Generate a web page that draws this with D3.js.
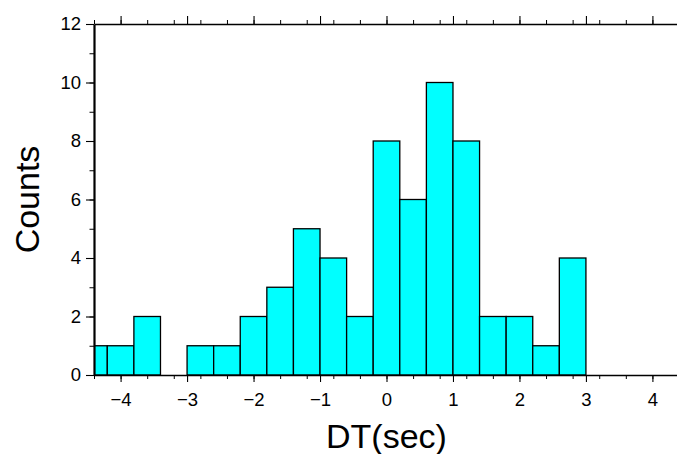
<html>
<meta charset="utf-8">
<script src="https://cdn.jsdelivr.net/npm/d3@7/dist/d3.min.js"></script>
<style>
  body { margin: 0; background: white; }
  text { font-family: "Liberation Sans", Arial, Helvetica, sans-serif; fill: black; }
</style>
<body>
<div id="chart"></div>
<script>

// histogram bins, width 0.4 sec
var binStarts = [-4.6, -4.2, -3.8, -3.4, -3.0, -2.6, -2.2, -1.8, -1.4, -1.0, -0.6, -0.2, 0.2, 0.6, 1.0, 1.4, 1.8, 2.2, 2.6]
var counts    = [1, 1, 2, 0, 1, 1, 2, 3, 5, 4, 2, 8, 6, 10, 8, 2, 2, 1, 4]
var binWidth = 0.4

var xDomain = [-4.4, 4.4]
var yDomain = [0, 12]
var xMajor = [-4, -3, -2, -1, 0, 1, 2, 3, 4]
var yMajor = [0, 2, 4, 6, 8, 10, 12]

var width = 677, height = 454
var margin = {left: 94, top: 24, right: -2, bottom: 79}

var svg = d3.select("#chart").append("svg")
  .attr("width", width)
  .attr("height", height)

var x = d3.scaleLinear().domain(xDomain).range([margin.left, width - margin.right])
var y = d3.scaleLinear().domain(yDomain).range([height - margin.bottom, margin.top])

var xMinor = d3.range(0, 23).map(function(i){ return +(xDomain[0] + i * 0.4).toFixed(1) })
var yMinor = d3.range(0, 13)

// clip the bars to the frame
svg.append("clipPath").attr("id", "frame")
  .append("rect")
  .attr("x", x(xDomain[0])).attr("y", y(yDomain[1]))
  .attr("width", x(xDomain[1]) - x(xDomain[0]))
  .attr("height", y(0) - y(yDomain[1]))

var bars = binStarts.map(function(s, i){ return {x0: s, x1: s + binWidth, n: counts[i]} })

svg.append("g").attr("clip-path", "url(#frame)")
  .selectAll("rect").data(bars).enter()
  .append("rect")
  .attr("x", function(d){ return x(d.x0) })
  .attr("y", function(d){ return y(d.n) })
  .attr("width", function(d){ return x(d.x1) - x(d.x0) })
  .attr("height", function(d){ return y(0) - y(d.n) })
  .attr("fill", "#00ffff")
  .attr("stroke", "black")
  .attr("stroke-width", 1.3)

// axes
function styleAxis(g, w){
  g.select(".domain").attr("stroke-width", w)
  g.selectAll(".tick line").attr("stroke-width", 1.1)
}

var bottomMinorG = svg.append("g").attr("transform", "translate(0," + y(0) + ")")
  .call(d3.axisBottom(x).tickValues(xMinor).tickSize(4).tickFormat(""))
bottomMinorG.select(".domain").remove()
var bottomG = svg.append("g").attr("transform", "translate(0," + y(0) + ")")
  .call(d3.axisBottom(x).tickValues(xMajor).tickSize(7).tickSizeOuter(0).tickPadding(11))
styleAxis(bottomG, 1.6)
bottomG.selectAll("text").style("font-size", "18.5px")

var topMinorG = svg.append("g").attr("transform", "translate(0," + y(12) + ")")
  .call(d3.axisTop(x).tickValues(xMinor).tickSize(4).tickFormat(""))
topMinorG.select(".domain").remove()
var topG = svg.append("g").attr("transform", "translate(0," + y(12) + ")")
  .call(d3.axisTop(x).tickValues(xMajor).tickSize(8).tickSizeOuter(0).tickFormat(""))
styleAxis(topG, 1.6)

var leftMinorG = svg.append("g").attr("transform", "translate(" + x(xDomain[0]) + ",0)")
  .call(d3.axisLeft(y).tickValues(yMinor).tickSize(4.5).tickFormat(""))
leftMinorG.select(".domain").remove()
var leftG = svg.append("g").attr("transform", "translate(" + x(xDomain[0]) + ",0)")
  .call(d3.axisLeft(y).tickValues(yMajor).tickSize(8).tickSizeOuter(0).tickPadding(5))
styleAxis(leftG, 2.2)
leftG.selectAll("text").style("font-size", "18.5px")

var rightG = svg.append("g").attr("transform", "translate(" + x(xDomain[1]) + ",0)")
  .call(d3.axisRight(y).tickValues(yMajor).tickSize(8).tickSizeOuter(0).tickFormat(""))
styleAxis(rightG, 1.6)

svg.selectAll(".tick line").attr("stroke", "black")
svg.selectAll(".domain").attr("stroke", "black")

// titles
svg.append("text")
  .attr("x", (x(xDomain[0]) + x(xDomain[1])) / 2)
  .attr("y", 448)
  .attr("text-anchor", "middle")
  .style("font-size", "34px")
  .text("DT(sec)")

svg.append("text")
  .attr("transform", "translate(39," + (y(0) + y(12)) / 2 + ") rotate(-90)")
  .attr("text-anchor", "middle")
  .style("font-size", "34px")
  .text("Counts")

</script>
</body>
</html>
